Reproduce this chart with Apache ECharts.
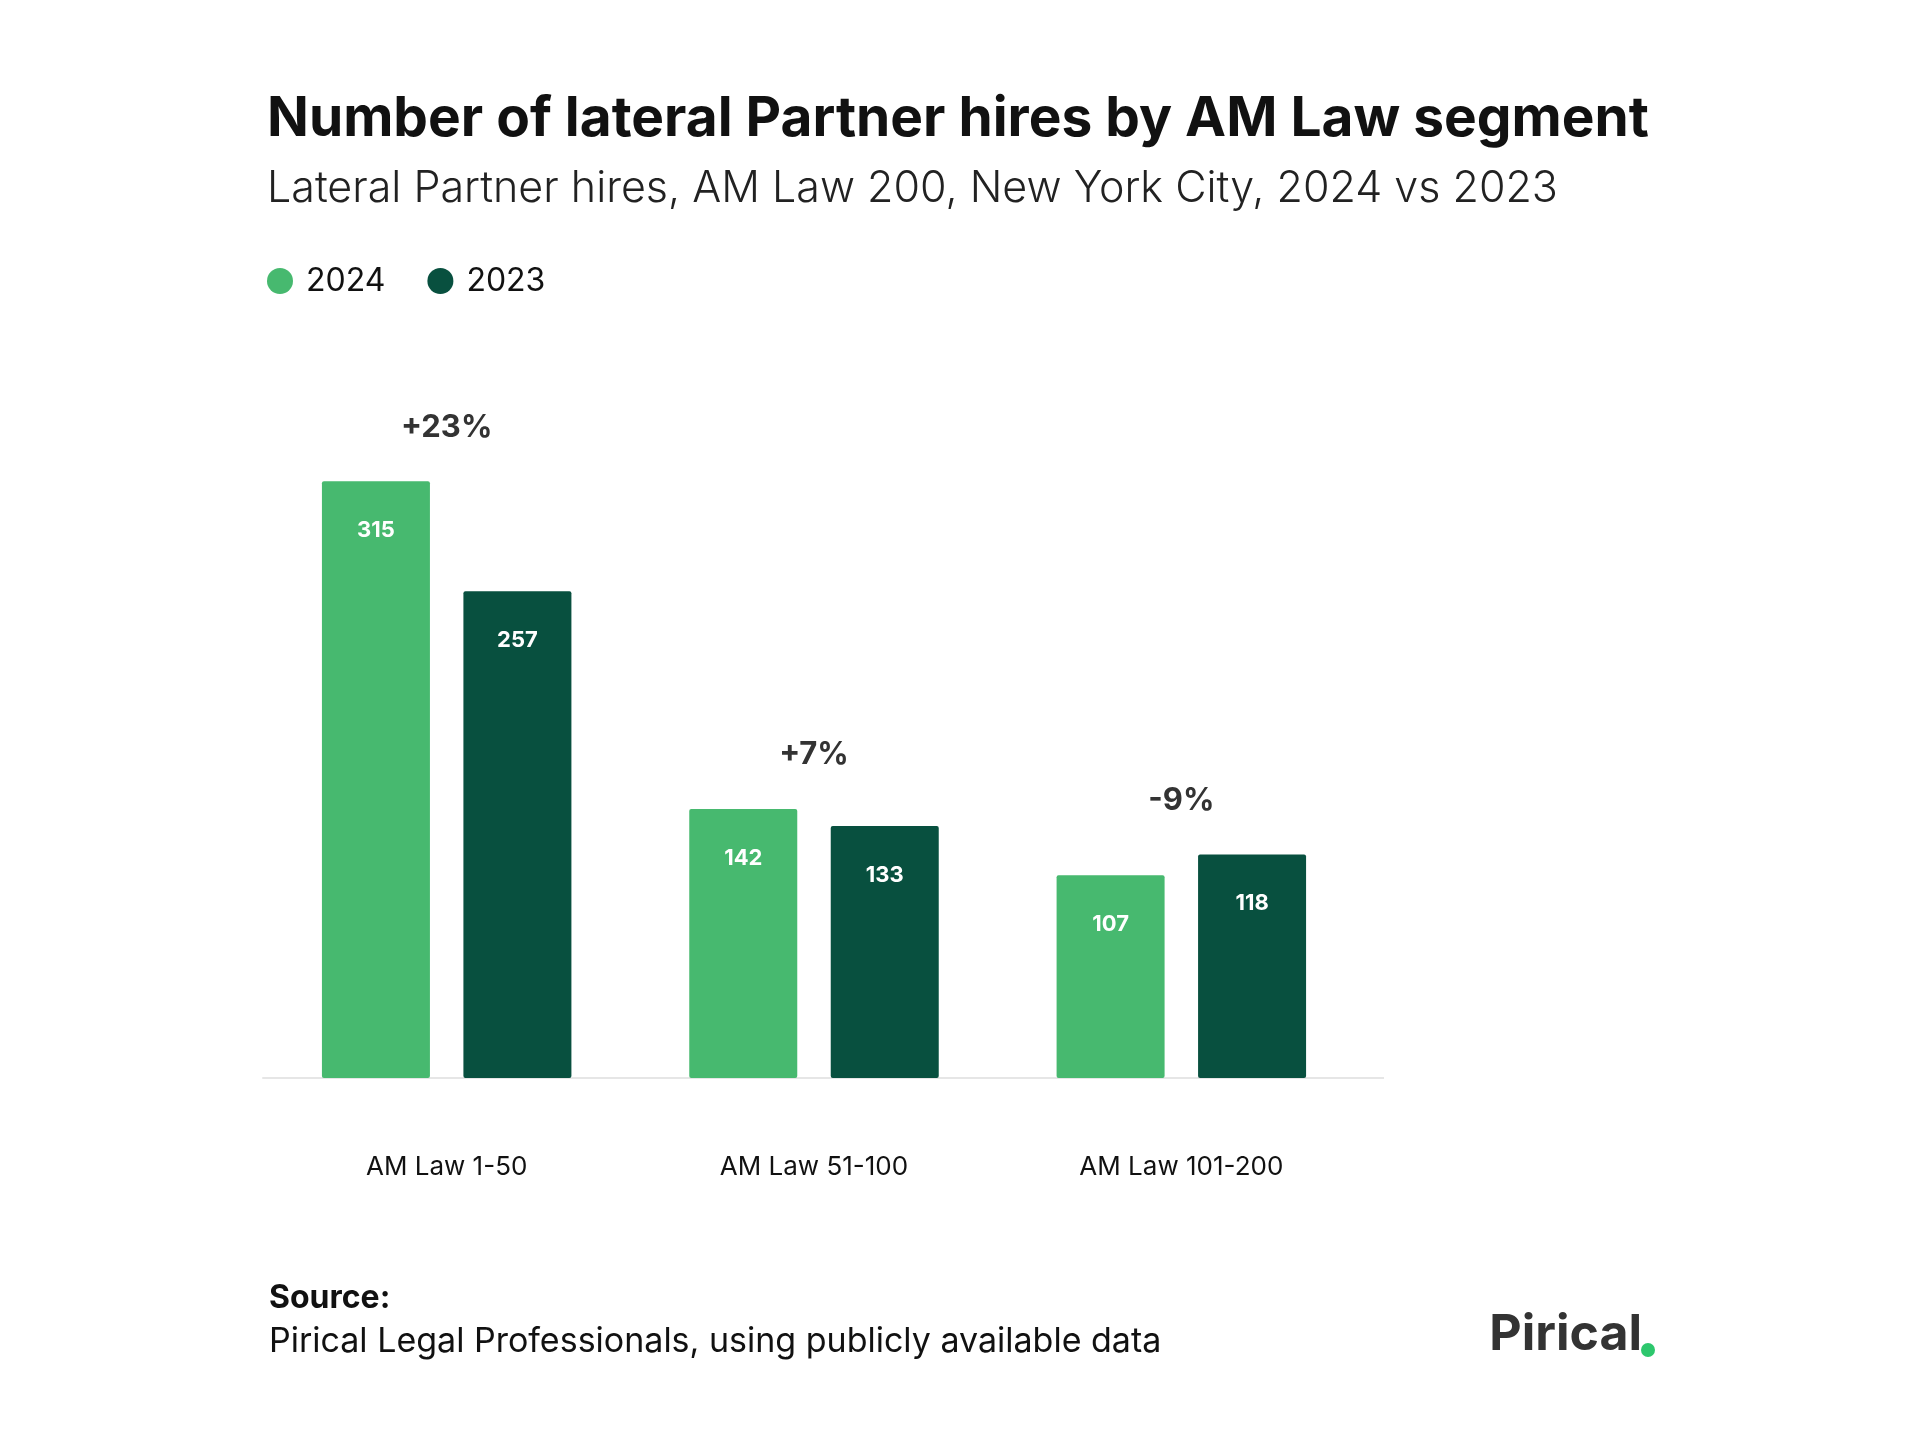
<!DOCTYPE html>
<html><head><meta charset="utf-8">
<script src="https://cdn.jsdelivr.net/npm/echarts@6/dist/echarts.min.js"></script>
<style>html,body{margin:0;padding:0;background:#fff}#c{width:1920px;height:1443px}</style>
</head><body><div id="c"></div>
<script>
const categories = ['AM Law 1-50', 'AM Law 51-100', 'AM Law 101-200'];
const values2024 = [315, 142, 107];
const values2023 = [257, 133, 118];
const changeLabels = ['+23%', '+7%', '-9%'];
const F = 'Inter, "Noto Sans", sans-serif';
const chart = echarts.init(document.getElementById('c'));
const lbl = {show:true, position:'insideTop', distance:38, color:'#fff', fontFamily:F, fontWeight:'bold', fontSize:22};
chart.setOption({
  animation:false,
  backgroundColor:'#fff',
  title:[
    {text:'Number of lateral Partner hires by AM Law segment', left:262, top:87, textStyle:{fontFamily:F, fontWeight:'bold', fontSize:55, color:'#111'}},
    {text:'Lateral Partner hires, AM Law 200, New York City, 2024 vs 2023', left:262, top:163, textStyle:{fontFamily:F, fontWeight:300, fontSize:43, color:'#222'}},
    {text:'Source:', left:264, top:1277, textStyle:{fontFamily:F, fontWeight:'bold', fontSize:32, color:'#111'}},
    {text:'Pirical Legal Professionals, using publicly available data', left:264, top:1320, textStyle:{fontFamily:F, fontWeight:'normal', fontSize:34, color:'#111'}}
  ],
  legend:{left:262, top:260, itemWidth:26, itemHeight:26, itemGap:42, icon:'circle',
    textStyle:{fontFamily:F, fontSize:32, color:'#111', padding:[0,0,0,8]}},
  grid:{left:263, right:1920-1365, top:415, bottom:1443-1078},
  xAxis:{type:'category', data:categories, axisTick:{show:false},
    axisLine:{lineStyle:{color:'#e6e6e6', width:2}},
    axisLabel:{margin:76, fontFamily:F, fontSize:26, color:'#111'}},
  yAxis:{type:'value', min:0, max:350, show:false, splitLine:{show:false}},
  series:[
    {name:'2024', type:'bar', data:values2024, barWidth:108, barGap:'31%', itemStyle:{color:'#47B96F', borderRadius:2}, label:lbl},
    {name:'2023', type:'bar', data:values2023, barWidth:108, itemStyle:{color:'#08503F', borderRadius:2}, label:lbl}
  ]
});
const g = [];
categories.forEach((c,i)=>{
  const top = Math.max(values2024[i], values2023[i]);
  const p = chart.convertToPixel({gridIndex:0}, [i, top]);
  g.push({type:'text', x:p[0], y:p[1]-54, style:{text:changeLabels[i], fontFamily:F, fontWeight:'bold', fontSize:31, fill:'#333', align:'center', verticalAlign:'middle'}});
});
g.push({type:'line', shape:{x1:1365, y1:1078, x2:1384, y2:1078}, style:{stroke:'#e6e6e6', lineWidth:2}});
g.push({type:'text', right:1920-1642, top:1310, style:{text:'Pirical', fontFamily:F, fontWeight:'bold', fontSize:50, fill:'#333'}});
g.push({type:'circle', shape:{cx:1648, cy:1350, r:7}, style:{fill:'#2DC76D'}});
chart.setOption({graphic:g});
</script></body></html>
